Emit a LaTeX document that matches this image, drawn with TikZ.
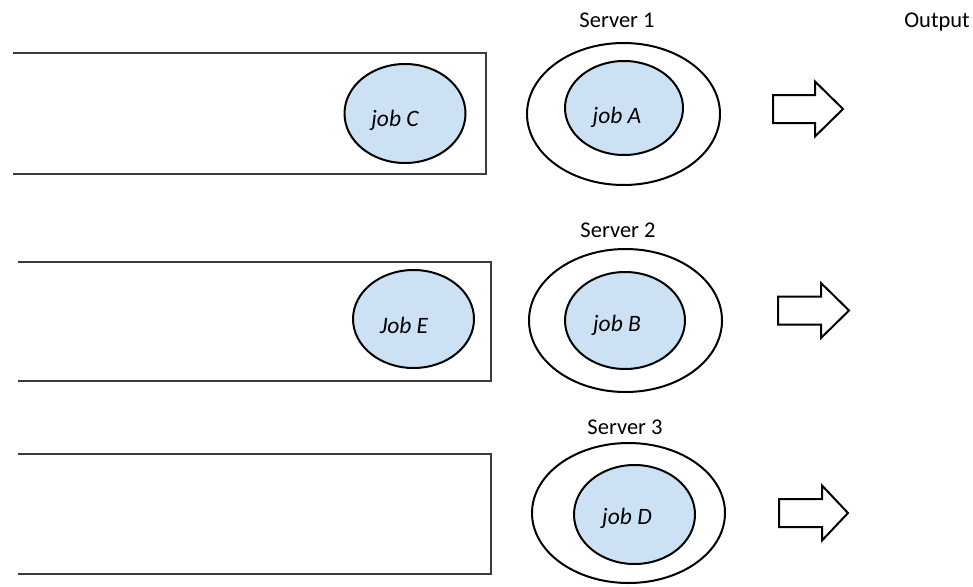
\documentclass[tikz,border=0pt]{standalone}
\usepackage{fontspec}
\setmainfont{Carlito}
\usetikzlibrary{shapes.geometric}
\definecolor{jobfill}{RGB}{204,226,244}
\definecolor{queueline}{RGB}{60,60,60}
\tikzset{
  queue/.style={draw=queueline, line width=1.5pt},
  server/.style={ellipse, draw=black, line width=2pt, inner sep=0pt},
  job/.style={ellipse, draw=black, fill=jobfill, line width=2pt, inner sep=0pt},
  jobtext/.style={font=\fontsize{23.5}{28}\selectfont\itshape, inner sep=0pt},
  label/.style={font=\fontsize{22.5}{27}\selectfont, inner sep=0pt},
  outarrow/.style={draw=black, line width=2pt, fill=white, line join=miter}
}
\newcommand{\outputarrow}[4]{% tail x, centre y, head start x, tip x
  \draw[outarrow] (#1,#2-14) -- (#3,#2-14) -- (#3,#2-27.5) -- (#4,#2)
    -- (#3,#2+27.5) -- (#3,#2+14) -- (#1,#2+14) -- cycle;}
\begin{document}
\begin{tikzpicture}[x=1pt,y=-1pt]
\useasboundingbox (0,0) rectangle (973,586);

% waiting queues (open on the left)
\coordinate (q1a) at (13,53);  \coordinate (q1b) at (486,53);
\coordinate (q1c) at (486,174); \coordinate (q1d) at (13,174);
\draw[queue] (q1a) -- (q1b) -- (q1c) -- (q1d);
\coordinate (q2a) at (18,262);  \coordinate (q2b) at (491,262);
\coordinate (q2c) at (491,381); \coordinate (q2d) at (18,381);
\draw[queue] (q2a) -- (q2b) -- (q2c) -- (q2d);
\coordinate (q3a) at (18,454);  \coordinate (q3b) at (491,454);
\coordinate (q3c) at (491,574); \coordinate (q3d) at (18,574);
\draw[queue] (q3a) -- (q3b) -- (q3c) -- (q3d);

% jobs waiting in the queues
\node[job, minimum width=121pt, minimum height=99pt] (jobC) at (405,113.5) {};
\node[jobtext] (tC) at (395,120) {job C};
\node[job, minimum width=121pt, minimum height=98pt] (jobE) at (413.5,319) {};
\node[jobtext] (tE) at (404,325) {Job E};

% servers with the jobs in service
\node[server, minimum width=193pt, minimum height=142pt] (srv1) at (623.5,114) {};
\node[job, minimum width=118pt, minimum height=94pt] (jobA) at (624,108) {};
\node[jobtext] (tA) at (617,117) {job A};
\node[label] (s1) at (617,20) {Server 1};

\node[server, minimum width=193pt, minimum height=143pt] (srv2) at (625.5,320.5) {};
\node[job, minimum width=120pt, minimum height=97pt] (jobB) at (625,320.5) {};
\node[jobtext] (tB) at (617,325) {job B};
\node[label] (s2) at (618,230) {Server 2};

\node[server, minimum width=193pt, minimum height=140pt] (srv3) at (628.5,513) {};
\node[job, minimum width=121pt, minimum height=99pt] (jobD) at (634.5,514.5) {};
\node[jobtext] (tD) at (627,518) {job D};
\node[label] (s3) at (625,427) {Server 3};

% output
\node[label] (out) at (937,22) {Output};
\outputarrow{773}{109}{815}{843}
\outputarrow{778}{310.5}{821}{849}
\outputarrow{779}{513}{822}{848}
\end{tikzpicture}
\end{document}
